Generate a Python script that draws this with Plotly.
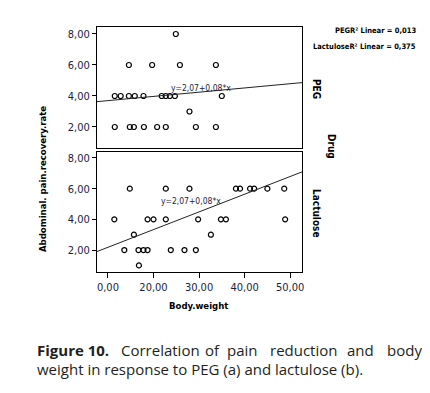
import plotly.graph_objects as go

# ---- data (body weight axis units, recovery rate) ----
peg_x = [1.5, 4.8, 5.7, 7.9, 10.8, 12.7, 19.3, 23.7,
         17.9,
         1.5, 2.8, 4.6, 5.9, 7.8, 11.8, 12.7, 13.6, 14.7, 25.0,
         4.6, 9.7, 15.8, 23.7,
         14.9]
peg_y = [2, 2, 2, 2, 2, 2, 2, 2,
         3,
         4, 4, 4, 4, 4, 4, 4, 4, 4, 4,
         6, 6, 6, 6,
         8]
lac_x = [4.8, 12.7, 17.9, 28.1, 29.0, 31.2, 32.1, 35.0, 38.7,
         1.4, 8.7, 10.0, 12.7, 19.8, 24.8, 25.9, 38.9,
         5.7, 22.6,
         3.6, 6.7, 7.8, 8.7, 13.8, 16.8, 19.3,
         6.8]
lac_y = [6, 6, 6, 6, 6, 6, 6, 6, 6,
         4, 4, 4, 4, 4, 4, 4, 4,
         3, 3,
         2, 2, 2, 2, 2, 2, 2,
         1]
# fit lines as drawn in the picture (intercept, slope)
peg_fit = [3.70, 0.0273]
lac_fit = [2.18, 0.1153]
x_tickvals = [0, 10, 20, 30, 40]
x_ticktext = ["0,00", "20,00", "30,00", "40,00", "50,00"]
y_tickvals = [2, 4, 6, 8]
equation = "y=2,07+0,08*x"
r2_lines = ["PEGR² Linear = 0,013", "LactuloseR² Linear = 0,375"]
panel_names = ["PEG", "Lactulose"]
caption_line1 = ["<b>Figure 10.</b>", "Correlation", "of", "pain", "reduction", "and", "body"]
caption_line2 = "weight in response to PEG (a) and lactulose (b)."
XR = [-2.4, 42.6]

FONT = "DejaVu Sans Condensed, Liberation Sans Narrow, sans-serif"
TICKC = "#1c1c3c"

fig = go.Figure()

def add_panel(xs, ys, fit, xa, ya):
    fig.add_trace(go.Scatter(x=xs, y=ys, mode="markers", xaxis=xa, yaxis=ya,
                             marker=dict(symbol="circle-open", size=5,
                                         color="black", line=dict(width=1.2)),
                             showlegend=False, hoverinfo="skip"))
    a, b = fit
    fig.add_trace(go.Scatter(x=XR, y=[a + b * v for v in XR], mode="lines",
                             xaxis=xa, yaxis=ya,
                             line=dict(color="#222", width=1),
                             showlegend=False, hoverinfo="skip"))

add_panel(peg_x, peg_y, peg_fit, "x2", "y")
add_panel(lac_x, lac_y, lac_fit, "x", "y2")

top_dom = [(272 - 148) / 245, 1]
bot_dom = [0, (272 - 152) / 245]

ax_common = dict(showline=True, linecolor="black", linewidth=1, mirror=True,
                 showgrid=False, zeroline=False,
                 tickfont=dict(family=FONT, size=11, color=TICKC))

# page is offset by 8px body margin -> margins compensate
fig.update_layout(
    width=430, height=393,
    margin=dict(l=89, r=136, t=19, b=129),
    paper_bgcolor="white", plot_bgcolor="white",
    separators=", ",
    xaxis=dict(**ax_common, range=XR, anchor="y2", tickvals=x_tickvals,
               ticktext=x_ticktext, ticks="outside", ticklen=5, tickcolor="black"),
    xaxis2=dict(**ax_common, range=XR, anchor="y", matches="x", showticklabels=False,
                ticks=""),
    yaxis=dict(**ax_common, range=[0.645, 8.45], domain=top_dom, tickvals=y_tickvals,
               tickformat=".2f", ticks="outside", ticklen=4, tickcolor="black"),
    yaxis2=dict(**ax_common, range=[0.57, 8.39], domain=bot_dom, tickvals=y_tickvals,
                tickformat=".2f", ticks="outside", ticklen=4, tickcolor="black"),
)

anns = []

def px_ann(x, y, text, size=10, angle=0, bold=True, xanchor="center", fam=FONT, color="black"):
    t = f"<b>{text}</b>" if bold else text
    anns.append(dict(xref="paper", yref="paper",
                     x=(x - 97) / 205, y=(272 - y) / 245,
                     text=t, showarrow=False, textangle=angle, xanchor=xanchor,
                     yanchor="middle",
                     font=dict(family=fam, size=size, color=color)))

px_ann(201, 88, equation, size=8.5, bold=False, color=TICKC)
px_ann(191, 201, equation, size=8.5, bold=False, color=TICKC)
px_ann(317, 89, panel_names[0], size=10, angle=90)
px_ann(317, 213, panel_names[1], size=10, angle=90)
px_ann(332, 146, "Drug", size=10, angle=90)
px_ann(418, 31, r2_lines[0], size=7.5, xanchor="right")
px_ann(418, 46, r2_lines[1], size=7.5, xanchor="right")
px_ann(42, 179, "Abdominal. pain.recovery.rate", size=9.5, angle=-90)
px_ann(198, 305, "Body.weight", size=9.5)

CAP = "Open Sans, Lato, sans-serif"
line1_x = [35, 119, 203, 225, 268, 345, 385]
for w, xx in zip(caption_line1, line1_x):
    px_ann(xx, 350, w, size=15, bold=False, xanchor="left", fam=CAP, color="#231f20")
px_ann(35, 369, caption_line2, size=15, bold=False, xanchor="left", fam=CAP, color="#231f20")

fig.update_layout(annotations=anns)
fig.write_html("out.html")
